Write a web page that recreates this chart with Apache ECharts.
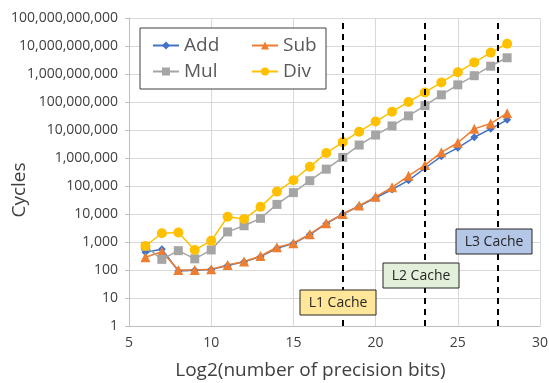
<!DOCTYPE html>
<html>
<head>
<meta charset="utf-8">
<script src="https://cdn.jsdelivr.net/npm/echarts@6/dist/echarts.min.js"></script>
<style>
  html, body { margin: 0; padding: 0; background: #fff; }
  #chart { width: 549px; height: 383px; }
</style>
</head>
<body>
<div id="chart"></div>
<script>
// log2 of precision bits
var bits = [6, 7, 8, 9, 10, 11, 12, 13, 14, 15, 16, 17, 18, 19, 20, 21, 22, 23, 24, 25, 26, 27, 28];

var addCycles = [430, 550, 92, 98, 104, 145, 195, 300, 600, 880, 1850, 4500, 9800, 19000, 38000,
  75000, 160000, 430000, 1150000, 2300000, 5500000, 11000000, 23000000];
var subCycles = [285, 450, 100, 100, 106, 150, 200, 316, 650, 900, 1900, 4700, 10000, 20000, 41000,
  90000, 230000, 560000, 1600000, 3500000, 11000000, 17000000, 40000000];
var mulCycles = [700, 240, 490, 250, 520, 2300, 3800, 7000, 22000, 58000, 155000, 400000, 1050000,
  2900000, 6600000, 14000000, 32000000, 74000000, 180000000, 410000000, 870000000, 1900000000, 3800000000];
var divCycles = [720, 2050, 2200, 520, 1100, 8000, 6600, 18000, 63000, 160000, 490000, 1500000, 3700000,
  8700000, 20000000, 45000000, 100000000, 220000000, 500000000, 1150000000, 2600000000, 5800000000, 12000000000];

// cache boundaries
var cacheNames = ['L1 Cache', 'L2 Cache', 'L3 Cache'];
var cacheBits = [18, 23, 27.4];

var FONT = 'Open Sans';

function pairs(ys) {
  return bits.map(function (b, i) { return [b, ys[i]]; });
}

function mkSeries(name, ys, color, symbol, size) {
  return {
    name: name,
    type: 'line',
    data: pairs(ys),
    symbol: symbol,
    symbolSize: size,
    itemStyle: { color: color },
    lineStyle: { color: color, width: 1.5 },
    z: 3
  };
}

var chart = echarts.init(document.getElementById('chart'), null, { renderer: 'canvas' });

var series = [
  mkSeries('Add', addCycles, '#4472C4', 'diamond', 8),
  mkSeries('Sub', subCycles, '#ED7D31', 'triangle', 10),
  mkSeries('Mul', mulCycles, '#A5A5A5', 'rect', 9),
  mkSeries('Div', divCycles, '#FFC000', 'circle', 10)
];

series[0].markLine = {
  silent: true,
  symbol: 'none',
  label: { show: false },
  lineStyle: { color: '#000', width: 2, type: [6, 5] },
  data: cacheBits.map(function (b) { return { xAxis: b }; })
};

var boxColors = ['#FFE699', '#E2EFDA', '#B4C7E7'];
var boxPos = [[300, 290], [383, 263], [456, 229]];

var legendText = { fontSize: 19, color: '#595959', fontFamily: FONT };

var option = {
  backgroundColor: '#ffffff',
  animation: false,
  textStyle: { fontFamily: FONT },
  grid: { left: 129, right: 9, top: 18, bottom: 57, outerBoundsMode: 'none', containLabel: false },
  legend: [{
    data: ['Add', 'Mul'],
    orient: 'vertical',
    left: 147,
    top: 31,
    itemWidth: 26,
    itemHeight: 10,
    itemGap: 7,
    z: 6,
    textStyle: legendText
  }, {
    data: ['Sub', 'Div'],
    orient: 'vertical',
    left: 246,
    top: 31,
    itemWidth: 26,
    itemHeight: 10,
    itemGap: 7,
    z: 6,
    textStyle: legendText
  }],
  xAxis: {
    type: 'value',
    min: 5,
    max: 30,
    interval: 5,
    name: 'Log2(number of precision bits)',
    nameLocation: 'middle',
    nameGap: 35,
    nameTextStyle: { fontSize: 19, color: '#404040', padding: [0, 48, 0, 0] },
    axisLine: { lineStyle: { color: '#BFBFBF' } },
    axisTick: { show: false },
    axisLabel: { fontSize: 14, color: '#404040', margin: 10 },
    splitLine: { lineStyle: { color: '#D9D9D9' } }
  },
  yAxis: {
    type: 'log',
    logBase: 10,
    min: 1,
    max: 100000000000,
    interval: 1,
    axisLine: { show: true, lineStyle: { color: '#BFBFBF' } },
    axisTick: { show: true, length: 4, lineStyle: { color: '#BFBFBF' } },
    minorTick: { show: false },
    axisLabel: {
      fontSize: 14,
      color: '#404040',
      margin: 11,
      hideOverlap: false,
      formatter: function (v) { return Math.round(v).toLocaleString('en-US'); }
    },
    splitLine: { lineStyle: { color: '#D9D9D9' } }
  },
  graphic: [{
    type: 'rect',
    shape: { x: 140, y: 28, width: 186, height: 61 },
    style: { fill: '#fff', stroke: '#404040', lineWidth: 1 },
    z: 4
  }, {
    // y axis title
    type: 'text',
    x: 20,
    y: 190,
    rotation: Math.PI / 2,
    z: 4,
    style: {
      text: 'Cycles',
      fill: '#404040',
      font: '19px "' + FONT + '"',
      align: 'center',
      verticalAlign: 'middle'
    }
  }].concat(cacheNames.map(function (n, i) {
    return {
      type: 'group',
      x: boxPos[i][0],
      y: boxPos[i][1],
      z: 100,
      children: [{
        type: 'rect',
        z: 100,
        shape: { x: 0, y: 0, width: 76, height: 25 },
        style: { fill: boxColors[i], stroke: '#262626', lineWidth: 1 }
      }, {
        type: 'text',
        z: 101,
        x: 38,
        y: 13,
        style: {
          text: n,
          fill: '#262626',
          font: '14px "' + FONT + '"',
          align: 'center',
          verticalAlign: 'middle'
        }
      }]
    };
  })),
  series: series
};

chart.setOption(option);
</script>
</body>
</html>
